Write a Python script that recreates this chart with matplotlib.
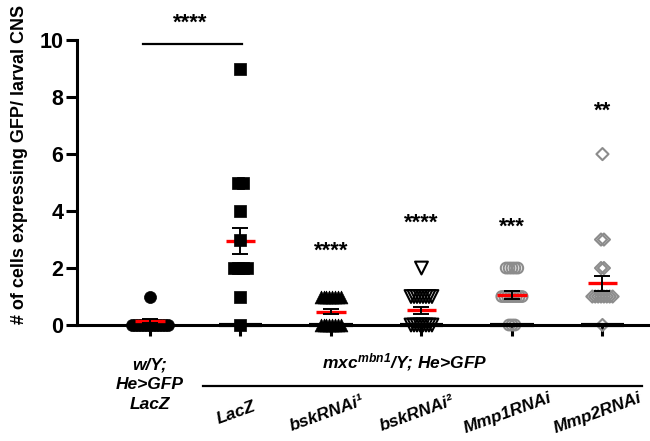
import numpy as np
import matplotlib
matplotlib.use("Agg")
import matplotlib.pyplot as plt
import matplotlib.transforms as mtransforms

plt.rcParams['font.family'] = ['Liberation Sans', 'DejaVu Sans']
plt.rcParams['mathtext.fontset'] = 'custom'
plt.rcParams['mathtext.it'] = 'Liberation Sans:style=italic:weight=bold'
plt.rcParams['mathtext.rm'] = 'Liberation Sans:style=italic:weight=bold'

# data
groups = ["w/Y;\nHe>GFP\nLacZ", "LacZ", "bskRNAi\u00b9", "bskRNAi\u00b2", "Mmp1RNAi", "Mmp2RNAi"]
g0 = [0] * 13 + [1]
g1 = [0, 1, 2, 2, 2, 2, 3, 4, 5, 5, 9]
g2 = [0] * 8 + [1] * 8
g3 = [0] * 8 + [1] * 8 + [2]
g4 = [0] * 3 + [1] * 8 + [2] * 5
g5 = [0] + [1] * 8 + [2] * 2 + [3] * 2 + [6]
values = [g0, g1, g2, g3, g4, g5]
means = [0.15, 2.95, 0.47, 0.52, 1.05, 1.46]
sems = [0.07, 0.45, 0.09, 0.12, 0.14, 0.25]
stars = ["", "", "****", "****", "***", "**"]
star_y = [0, 0, 2.6, 3.56, 3.44, 7.5]

markers = ['o', 's', '^', 'v', 'o', 'D']
faces = ['black', 'black', 'black', 'none', 'none', 'none']
edges = ['black', 'black', 'black', 'black', '#8c8c8c', '#8c8c8c']
msizes = [75, 85, 85, 85, 60, 38]
spacing = [0.033, 0.045, 0.033, 0.033, 0.032, 0.032]

fig = plt.figure(figsize=(6.5, 4.41), dpi=100)
ax = fig.add_axes((0.1185, 0.263, 0.878, 0.646))

for i, vals in enumerate(values):
    vals = np.array(vals)
    for v in np.unique(vals):
        n = np.sum(vals == v)
        xs = i + (np.arange(n) - (n - 1) / 2) * spacing[i]
        ax.scatter(xs, [v] * n, marker=markers[i], s=msizes[i],
                   facecolors=faces[i], edgecolors=edges[i],
                   linewidths=1.5 if faces[i] == 'none' else 0.5,
                   zorder=3 if faces[i] != 'none' else 2, clip_on=False)
    # thick segment of zero values on the axis
    ax.hlines(0, i - 0.24, i + 0.24, color='black', lw=3.0, zorder=4, clip_on=False)
    ax.hlines(means[i], i - 0.165, i + 0.165, color='#ff0000', lw=2.4, zorder=4 if i != 1 else 2)
    ax.errorbar(i, means[i], yerr=sems[i], fmt='none', ecolor='black',
                elinewidth=1.4, capsize=5.5, capthick=1.4, zorder=5)
    if stars[i]:
        ax.text(i, star_y[i], stars[i], ha='center', va='center',
                fontsize=16, fontweight='bold')

# significance bar between first two groups
ax.plot([-0.08, 1.02], [9.86, 9.86], color='black', lw=1.6, clip_on=False)
ax.text(0.44, 10.6, "****", ha='center', va='center', fontsize=16,
        fontweight='bold', clip_on=False)

ax.set_xlim(-0.806, 5.50)
ax.set_ylim(0, 10)
ax.set_yticks([0, 2, 4, 6, 8, 10])
ax.set_yticklabels(['0', '2', '4', '6', '8', '10'], fontsize=15.5, fontweight='bold')
ax.set_xticks(range(6))
ax.set_xticklabels([])
ax.tick_params(axis='both', direction='out', length=8, width=2.2, pad=2)
for s in ['top', 'right']:
    ax.spines[s].set_visible(False)
for s in ['left', 'bottom']:
    ax.spines[s].set_linewidth(2.2)

fig.text(20 / 650, 0.626, "# of cells expressing GFP/ larval CNS", rotation=90,
         ha='center', va='center', fontsize=13, fontweight='bold')

trans = mtransforms.blended_transform_factory(ax.transData, fig.transFigure)
ax.text(0, 0.127, groups[0], transform=trans, ha='center', va='center',
        fontsize=12.5, fontweight='bold', style='italic', linespacing=1.4)
ax.text(2.81, 0.179, r"$mxc^{mbn1}$/Y; He>GFP", transform=trans, ha='center',
        va='center', fontsize=12.5, fontweight='bold', style='italic')
ax.plot([0.585, 5.44], [0.125, 0.125], transform=trans, color='black',
        lw=1.6, clip_on=False)
for i in range(1, 6):
    ax.text(i - 0.05, 0.063, groups[i], transform=trans, ha='center', va='center',
            rotation=20, fontsize=12.5, fontweight='bold', style='italic',
            rotation_mode='anchor')

fig.savefig("out.png", dpi=100)
